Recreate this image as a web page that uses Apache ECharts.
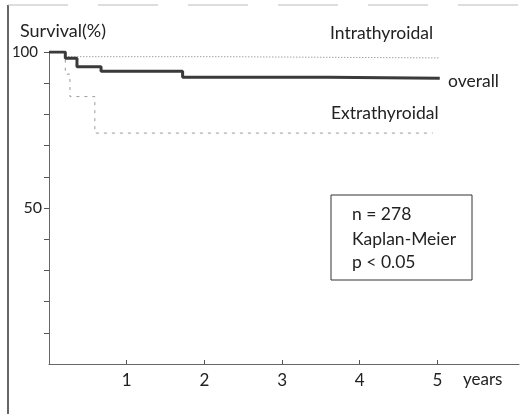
<!DOCTYPE html>
<html><head><meta charset="utf-8">
<script src="https://cdn.jsdelivr.net/npm/echarts@6/dist/echarts.min.js"></script>
<style>html,body{margin:0;padding:0;background:#fff}#c{width:531px;height:414px}</style>
</head><body><div id="c"></div>
<script>
// Kaplan-Meier step data (years, survival %)
const overallYears = [0, 0.21, 0.36, 0.67, 1.72, 3.6, 5.03];
const overallSurvival = [100, 98.0, 95.3, 93.8, 91.9, 91.6, 91.6];
const intraYears = [0, 0.21, 2.2, 5.03];
const intraSurvival = [100, 98.5, 98.1, 98.1];
const extraYears = [0, 0.21, 0.27, 0.59, 4.94];
const extraSurvival = [100, 92.9, 85.7, 74.0, 74.0];
const xTickLabels = [1, 2, 3, 4, 5];
const yTickLabels = [50, 100];
const yTickValues = [10, 20, 30, 40, 50, 60, 70, 80, 90, 100];
const boxLines = ['n = 278', 'Kaplan-Meier', 'p < 0.05'];

const FONT = 'Lato';
const pairs = (xs, ys) => xs.map((x, i) => [x, ys[i]]);

const chart = echarts.init(document.getElementById('c'), null, {renderer: 'canvas'});
chart.setOption({
  animation: false,
  backgroundColor: '#fff',
  grid: {left: 49, top: 52, right: 12, bottom: 50, containLabel: false},
  xAxis: {
    type: 'value', min: 0, max: 6.05,
    axisLine: {show: true, lineStyle: {color: '#666', width: 1}},
    axisTick: {show: true, inside: true, length: 4, customValues: xTickLabels, lineStyle: {color: '#555'}},
    axisLabel: {customValues: xTickLabels, margin: 8, color: '#222', fontFamily: FONT, fontSize: 17},
    splitLine: {show: false}
  },
  yAxis: {
    type: 'value', min: 0, max: 100,
    axisLine: {show: true, lineStyle: {color: '#666', width: 1}},
    axisTick: {show: true, inside: false, length: 5, customValues: yTickValues, lineStyle: {color: '#555'}},
    axisLabel: {
      customValues: yTickLabels, margin: 7, color: '#222', fontFamily: FONT, fontSize: 16,
      formatter: v => v === 100 ? '{h|100}' : String(v),
      rich: {h: {fontFamily: FONT, fontSize: 15, color: '#222', padding: [0, 4, 0, 0]}}
    },
    splitLine: {show: false}
  },
  series: [
    {name: 'Intrathyroidal', type: 'line', step: 'end', symbol: 'none',
     data: pairs(intraYears, intraSurvival),
     lineStyle: {color: '#777', width: 1, type: [1, 2]}},
    {name: 'Extrathyroidal', type: 'line', step: 'end', symbol: 'none',
     data: pairs(extraYears, extraSurvival),
     lineStyle: {color: '#999', width: 1, type: [3, 5]}},
    {name: 'overall', type: 'line', step: 'end', symbol: 'none',
     data: pairs(overallYears, overallSurvival),
     lineStyle: {color: '#3a3a3a', width: 3}}
  ],
  graphic: [
    {type: 'line', shape: {x1: 8, y1: 5, x2: 8, y2: 414}, style: {stroke: '#333', lineWidth: 1.5}},
    {type: 'line', shape: {x1: 8, y1: 5, x2: 531, y2: 5}, style: {stroke: '#bbb', lineWidth: 1, lineDash: [60, 30]}},
    {type: 'text', left: 20, top: 22, style: {text: 'Survival(%)', font: '18px ' + FONT, fill: '#222'}},
    {type: 'text', left: 330, top: 24, style: {text: 'Intrathyroidal', font: '17.5px ' + FONT, fill: '#222'}},
    {type: 'text', left: 448, top: 72, style: {text: 'overall', font: '17.5px ' + FONT, fill: '#222'}},
    {type: 'text', left: 331, top: 104, style: {text: 'Extrathyroidal', font: '17.5px ' + FONT, fill: '#222'}},
    {type: 'text', left: 463, top: 371, style: {text: 'years', font: '17px ' + FONT, fill: '#222'}},
    {type: 'rect', shape: {x: 331, y: 195, width: 141, height: 85}, style: {fill: 'none', stroke: '#333', lineWidth: 1}},
    {type: 'text', left: 352, top: 205, style: {text: boxLines[0], font: '17.5px ' + FONT, fill: '#222'}},
    {type: 'text', left: 352, top: 230, style: {text: boxLines[1], font: '17.5px ' + FONT, fill: '#222'}},
    {type: 'text', left: 352, top: 253, style: {text: boxLines[2], font: '17.5px ' + FONT, fill: '#222'}}
  ]
});
</script></body></html>
